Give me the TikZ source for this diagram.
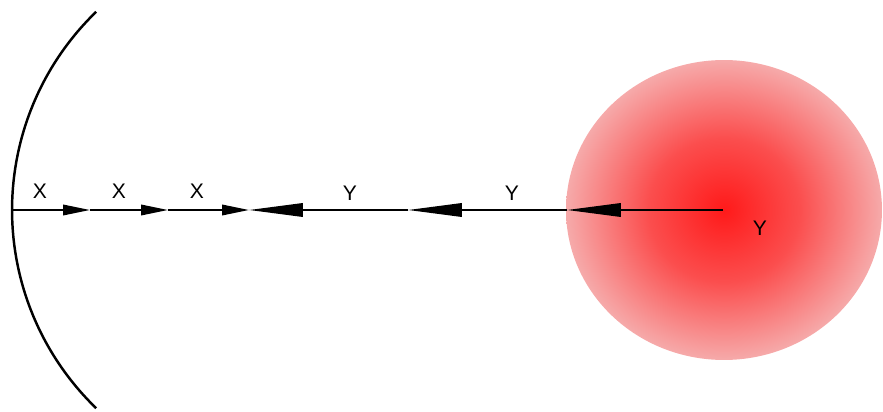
\documentclass[tikz,border=0pt]{standalone}
\usepackage{fontspec}
\setmainfont{Liberation Sans}
\usetikzlibrary{arrows.meta}
\definecolor{centro}{RGB}{255,26,26}
\definecolor{medio}{RGB}{251,78,78}
\definecolor{borde}{RGB}{246,170,170}
\pgfdeclareradialshading{carga}{\pgfpoint{0bp}{0bp}}{color(0bp)=(centro); color(12bp)=(medio); color(25bp)=(borde); color(50bp)=(borde)}
\tikzset{
  flecha/.style={line width=1.1pt,-{Triangle[length=0.54cm,width=0.21cm]}},
  flechalarga/.style={line width=1.1pt,-{Triangle[length=1.08cm,width=0.27cm]}},
  etiqueta/.style={font=\fontsize{12}{14}\selectfont,inner sep=0pt},
}
\begin{document}
\begin{tikzpicture}[x=0.02cm,y=-0.02cm]
  \useasboundingbox (0,0) rectangle (883,412);
  % Carga
  \shade[shading=carga] (724,210) ellipse [x radius=3.16cm,y radius=3cm];
  % Superficie
  \coordinate (c) at (287.6,210);
  \draw[line width=1.4pt] ([shift={(134:5.512cm)}]c) arc [start angle=134,end angle=226,radius=5.512cm];
  % Puntos sobre el eje
  \coordinate (a0) at (12,210);
  \coordinate (a1) at (90,210);
  \coordinate (a2) at (168,210);
  \coordinate (a3) at (249,210);
  \coordinate (b1) at (408,210);
  \coordinate (b2) at (567,210);
  \coordinate (q) at (723,210);
  % Flechas X
  \draw[flecha] (a0) -- (a1);
  \draw[flecha] (a1) -- (a2);
  \draw[flecha] (a2) -- (a3);
  % Flechas Y
  \draw[flechalarga] (b1) -- (a3);
  \draw[flechalarga] (b2) -- (b1);
  \draw[flechalarga] (q) -- (b2);
  % Etiquetas
  \node[etiqueta] (x1) at (40,191) {X};
  \node[etiqueta] (x2) at (119,191) {X};
  \node[etiqueta] (x3) at (197,191) {X};
  \node[etiqueta] (y1) at (350,193) {Y};
  \node[etiqueta] (y2) at (512,193) {Y};
  \node[etiqueta] (y3) at (760,228) {Y};
\end{tikzpicture}
\end{document}
